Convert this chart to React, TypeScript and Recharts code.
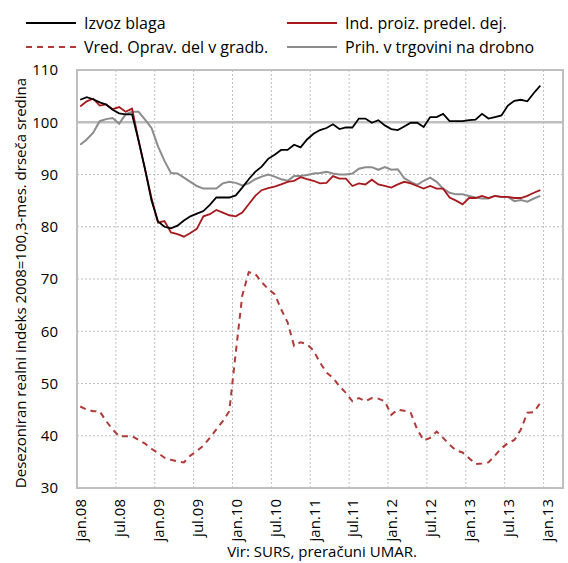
import {
  LineChart,
  Line,
  XAxis,
  YAxis,
  CartesianGrid,
  ReferenceLine,
  ReferenceArea,
} from 'recharts';

const monthNames = ['jan', 'feb', 'mar', 'apr', 'maj', 'jun', 'jul', 'avg', 'sep', 'okt', 'nov', 'dec'];
const years = ['08', '09', '10', '11', '12', '13'];
const months = years.flatMap((y) => monthNames.map((m) => `${m}.${y}`));

const xTickLabels = [
  'jan.08', 'jul.08', 'jan.09', 'jul.09', 'jan.10', 'jul.10', 'jan.11',
  'jul.11', 'jan.12', 'jul.12', 'jan.13', 'jul.13', 'jan.13',
];
const yTicks = [30, 40, 50, 60, 70, 80, 90, 100, 110];

const izvozBlaga = [
  104.3, 104.8, 104.4, 103.8, 103.4, 102.4, 101.7, 101.5, 101.5, 96.5, 91, 85,
  81, 80, 79.7, 80.2, 81.2, 82, 82.5, 83, 84.2, 85.6, 85.6, 85.6,
  86, 87.5, 89.1, 90.5, 91.5, 93, 93.8, 94.7, 94.7, 95.7, 95.2, 96.7,
  97.8, 98.5, 98.9, 99.6, 98.7, 99, 99, 100.7, 100.7, 99.9, 100.4, 99.4,
  98.7, 98.5, 99.2, 99.9, 99.9, 99.1, 101, 101, 101.6, 100.2, 100.2, 100.2,
  100.4, 100.5, 101.6, 100.7, 101, 101.3, 103.2, 104.1, 104.3, 104, 105.6, 107,
];

const indProiz = [
  103, 104, 104.5, 103.2, 103.4, 102.5, 102.9, 102, 102.6, 96.5, 91, 85.5,
  80.8, 81.1, 78.9, 78.6, 78.1, 78.8, 79.6, 82, 82.4, 83.2, 82.7, 82.2,
  82, 82.7, 84.3, 85.9, 87, 87.4, 87.7, 88.1, 88.6, 88.8, 89.5, 89.1,
  88.8, 88.3, 88.4, 89.7, 89.2, 89.2, 87.8, 88.3, 88.1, 89, 88.1, 87.8,
  87.5, 88.1, 88.6, 88.3, 87.8, 87.3, 87.8, 87.3, 87.3, 85.6, 85, 84.3,
  85.5, 85.5, 85.9, 85.5, 85.9, 85.7, 85.7, 85.5, 85.5, 85.9, 86.5, 87,
];

const gradbenistvo = [
  45.6, 45, 44.7, 44.7, 42.8, 41.2, 39.9, 39.9, 39.9, 39.2, 38.5, 37.5,
  36.7, 35.8, 35.4, 35.1, 34.9, 36.2, 37.1, 38.1, 39.6, 41.2, 42.8, 44.7,
  55.9, 66.8, 71.3, 71, 69.4, 68.1, 67.1, 64.2, 61.7, 57.2, 57.9, 57.5,
  56.3, 54, 52.1, 51.1, 49.5, 48.2, 46.6, 47.2, 46.6, 47.2, 47.1, 46.6,
  44, 45, 44.8, 44.4, 41.2, 39.1, 39.6, 40.8, 39.6, 38.3, 37.2, 36.8,
  35.7, 34.6, 34.7, 34.9, 36.2, 37.6, 38.6, 39.2, 41.2, 44.4, 44.5, 46.3,
];

const trgovina = [
  95.7, 96.7, 98, 100.2, 100.6, 100.8, 99.7, 101.5, 102, 102, 100.5, 98.9,
  95.4, 92.6, 90.3, 90.2, 89.4, 88.6, 87.8, 87.3, 87.3, 87.3, 88.3, 88.6,
  88.4, 87.9, 88.3, 89.1, 89.6, 90, 89.6, 89.1, 88.8, 89.7, 89.7, 89.9,
  90.2, 90.3, 90.5, 90.2, 90, 90, 90.2, 91.1, 91.4, 91.4, 90.9, 91.4,
  90.9, 91, 89.3, 88.6, 88, 88.8, 89.4, 88.6, 87.3, 86.5, 86.2, 86.2,
  85.9, 85.6, 85.4, 85.4, 85.9, 85.7, 85.7, 84.9, 85.1, 84.8, 85.4, 85.9,
];

const data = months.map((m, i) => ({
  x: i + 0.5,
  month: m,
  izvoz: izvozBlaga[i],
  proiz: indProiz[i],
  gradb: gradbenistvo[i],
  trg: trgovina[i],
}));

const FONT = '"Open Sans", sans-serif';
const RED = '#a8191e';
const DASH_RED = '#b03a3a';
const GREY = '#8c8c8c';
const GRID = '#bfbfbf';

const XTick = (props: any) => {
  const { x, y, payload } = props;
  const label = xTickLabels[Math.round(payload.value / 6)];
  const cx = x + 3.3;
  return (
    <text
      x={cx}
      y={y}
      transform={`rotate(-90 ${cx} ${y})`}
      textAnchor="end"
      dominantBaseline="central"
      fontSize={15}
      fontFamily={FONT}
      fill="#000"
    >
      {label}
    </text>
  );
};

const legendItems = [
  { label: 'Izvoz blaga', color: '#000', dash: undefined, left: 26, top: 23 },
  { label: 'Ind. proiz. predel. dej.', color: RED, dash: undefined, left: 287, top: 23 },
  { label: 'Vred. Oprav. del v gradb.', color: DASH_RED, dash: '6 5', left: 26, top: 47 },
  { label: 'Prih. v trgovini na drobno', color: GREY, dash: undefined, left: 287, top: 47 },
];

export default function App() {
  return (
    <div style={{ position: 'absolute', left: 0, top: 0, width: 568, height: 563, overflow: 'hidden', background: '#fff', fontFamily: FONT }}>
      {legendItems.map((it) => (
        <div
          key={it.label}
          style={{ position: 'absolute', left: it.left, top: it.top - 12, height: 24, display: 'flex', alignItems: 'center', fontSize: 16, color: '#000', whiteSpace: 'nowrap' }}
        >
          <svg width={50} height={4} style={{ marginRight: 8 }}>
            <line x1={0} y1={2} x2={50} y2={2} stroke={it.color} strokeWidth={2} strokeDasharray={it.dash} />
          </svg>
          <span>{it.label}</span>
        </div>
      ))}
      <LineChart width={568} height={563} data={data} margin={{ top: 70, right: 5, bottom: 0, left: 0 }}>
        <CartesianGrid stroke={GRID} strokeDasharray="2 2" />
        <XAxis
          type="number"
          dataKey="x"
          domain={[0, 75]}
          ticks={[0, 6, 12, 18, 24, 30, 36, 42, 48, 54, 60, 66, 72]}
          height={75}
          axisLine={false}
          tickLine={false}
          tickSize={0}
          tickMargin={11}
          tick={<XTick />}
          interval={0}
        />
        <YAxis
          type="number"
          domain={[30, 110]}
          ticks={yTicks}
          width={77}
          axisLine={false}
          tickLine={false}
          tickSize={6}
          tickMargin={13}
          tick={{ fontSize: 15, fill: '#000', fontFamily: FONT }}
          interval={0}
          label={{
            value: 'Desezoniran realni indeks 2008=100,3-mes. drseča sredina',
            angle: -90,
            position: 'center',
            dx: -18,
            dy: 4,
            style: { fontSize: 15, fill: '#000', fontFamily: FONT, textAnchor: 'middle' },
          }}
        />
        <ReferenceArea x1={0} x2={75} y1={30} y2={110} fill="none" stroke={GRID} strokeWidth={2} />
        <ReferenceLine y={100} stroke={GRID} strokeWidth={2.5} />
        <Line dataKey="gradb" stroke={DASH_RED} strokeWidth={2} strokeDasharray="6 5" dot={false} isAnimationActive={false} />
        <Line dataKey="trg" stroke={GREY} strokeWidth={2} dot={false} isAnimationActive={false} />
        <Line dataKey="proiz" stroke={RED} strokeWidth={1.8} dot={false} isAnimationActive={false} />
        <Line dataKey="izvoz" stroke="#000" strokeWidth={1.8} dot={false} isAnimationActive={false} />
      </LineChart>
      <div style={{ position: 'absolute', left: 0, width: 644, top: 541, lineHeight: '20px', textAlign: 'center', fontSize: 15, color: '#000' }}>
        Vir: SURS, preračuni UMAR.
      </div>
    </div>
  );
}
